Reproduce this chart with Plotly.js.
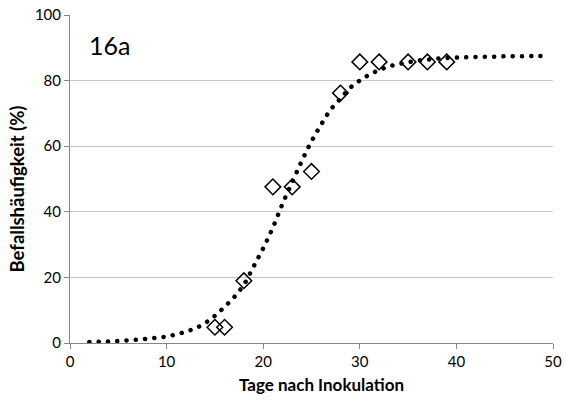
<!DOCTYPE html>
<html><head><meta charset="utf-8">
<script src="https://cdn.plot.ly/plotly-3.0.1.min.js"></script>
<style>body{margin:0;background:#fff}#chart{width:566px;height:401px}</style>
</head><body><div id="chart"></div>
<script>
// Observed disease incidence (diamonds)
const obsDays = [15, 16, 18, 21, 23, 25, 28, 30, 32, 35, 37, 39];
const obsIncidence = [4.8, 4.8, 19.0, 47.6, 47.6, 52.3, 76.2, 85.7, 85.7, 85.7, 85.7, 85.7];
// Fitted trend curve (dotted)
const fitDays = [2,3,4,5,6,7,8,9,10,11,12,13,14,15,16,17,18,19,20,21,22,23,24,25,26,27,28,29,30,31,32,33,34,35,36,37,38,39,40,41,42,43,44,45,46,47,48,49];
const fitIncidence = [0.3,0.4,0.5,0.6,0.8,1.0,1.3,1.6,2.0,2.6,3.5,4.5,6.1,8.3,11.0,14.0,17.8,23.3,28.9,35.2,42.4,49.0,55.5,61.5,66.6,71.2,74.5,77.8,80.0,81.8,83.2,84.3,85.0,85.6,86.1,86.4,86.7,86.9,87.0,87.1,87.2,87.3,87.3,87.4,87.4,87.4,87.5,87.5];
const xTicks = [0, 10, 20, 30, 40, 50];
const yTicks = [0, 20, 40, 60, 80, 100];
const panelLabel = "16a";
const xTitle = "Tage nach Inokulation";
const yTitle = "Befallshäufigkeit (%)";

const font = "Lato, Carlito, 'Open Sans', sans-serif";
const traces = [
  {x: fitDays, y: fitIncidence, mode: "lines", type: "scatter", line: {color: "#000", width: 4.5, dash: "0.1px,9.2px", shape: "spline"}, hoverinfo: "skip"},
  {x: obsDays, y: obsIncidence, mode: "markers", type: "scatter", marker: {symbol: "diamond-open", size: 12, color: "#000", line: {width: 1.5, color: "#000"}}}
];
const layout = {
  width: 566, height: 401,
  margin: {l: 70, r: 13, t: 15, b: 58},
  paper_bgcolor: "#fff", plot_bgcolor: "#fff",
  showlegend: false,
  font: {family: font, size: 15, color: "#000"},
  xaxis: {range: [0, 50], tickvals: xTicks, ticktext: xTicks.map(String), showgrid: false, zeroline: false,
    showline: true, linecolor: "#868686", linewidth: 1, ticks: "outside", ticklen: 5, tickcolor: "#868686",
    tickfont: {family: font, size: 15, color: "#000"}},
  yaxis: {range: [0, 100], tickvals: yTicks, ticktext: yTicks.map(String), showgrid: true, gridcolor: "#c6c6c6", gridwidth: 1,
    zeroline: false, showline: true, linecolor: "#868686", linewidth: 1, ticks: "outside", ticklen: 5, tickcolor: "#868686",
    tickfont: {family: font, size: 15, color: "#000"}},
  annotations: [
    {x: 1.8, y: 91, xref: "x", yref: "y", text: panelLabel, showarrow: false, xanchor: "left", yanchor: "middle",
     font: {family: font, size: 25, color: "#000"}},
    {x: 0.5197, y: -0.128, xref: "paper", yref: "paper", text: "<b>" + xTitle + "</b>", showarrow: false,
     xanchor: "center", yanchor: "middle", font: {family: font, size: 17, color: "#000"}},
    {x: -0.1087, y: 0.4695, xref: "paper", yref: "paper", text: "<b>" + yTitle + "</b>", showarrow: false, textangle: -90,
     xanchor: "center", yanchor: "middle", font: {family: font, size: 18.5, color: "#000"}}
  ]
};
Plotly.newPlot("chart", traces, layout, {staticPlot: true, displayModeBar: false}).then(function(gd){
  gd.querySelectorAll(".scatterlayer .js-line").forEach(function(p){ p.style.strokeLinecap = "round"; });
});
</script></body></html>
